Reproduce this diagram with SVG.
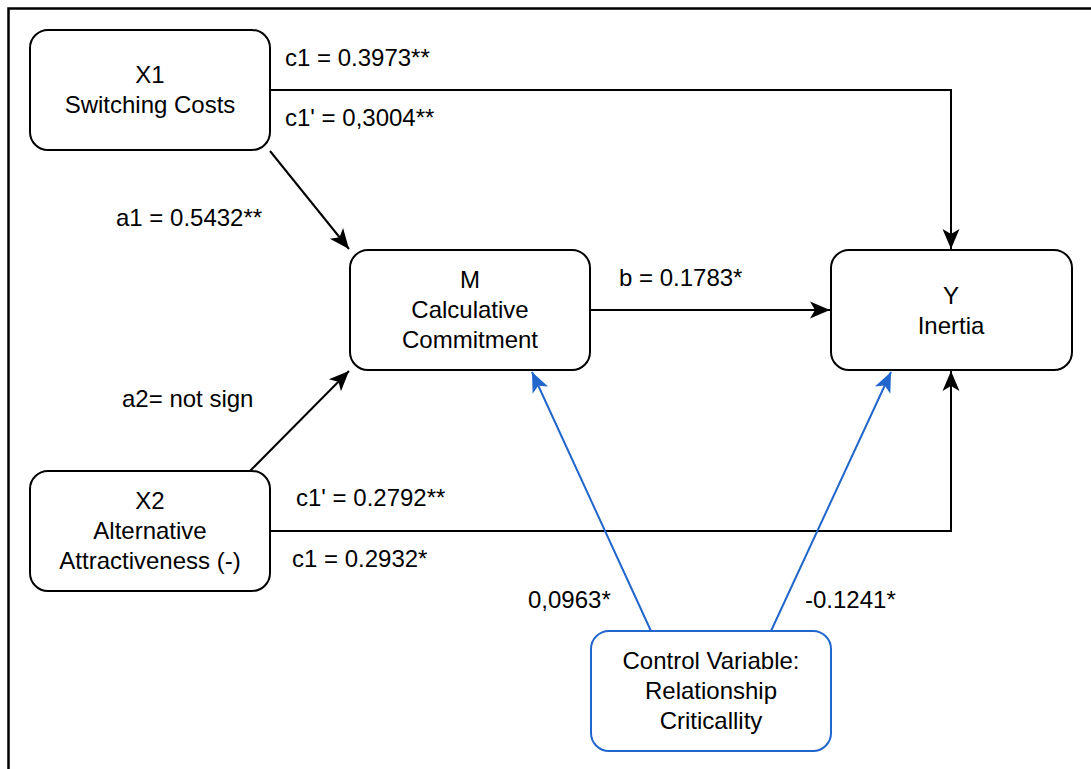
<svg xmlns="http://www.w3.org/2000/svg" width="1091" height="769" viewBox="0 0 1091 769">
  <style>
    .bg { fill: #ffffff; }
    .frame { fill: none; stroke: #000000; stroke-width: 2.5; }
    .node { fill: #ffffff; stroke: #000000; stroke-width: 2; }
    .ctrl { fill: #ffffff; stroke: #2166cc; stroke-width: 2; }
    .edge { fill: none; stroke: #000000; stroke-width: 2; }
    .edge-ctrl { fill: none; stroke: #2166cc; stroke-width: 2; }
    text { font-family: "Liberation Sans", Arial, sans-serif; font-size: 24px; fill: #000000; }
    .c { text-anchor: middle; }
  </style>
  <defs>
    <marker id="arrow" markerUnits="userSpaceOnUse" markerWidth="24" markerHeight="20" viewBox="-1 -10 24 20" refX="20" refY="0" orient="auto">
      <path d="M0,-8.5 L20,0 L0,8.5 L5,0 Z" fill="#000000"/>
    </marker>
    <marker id="arrow-blue" markerUnits="userSpaceOnUse" markerWidth="24" markerHeight="20" viewBox="-1 -10 24 20" refX="20" refY="0" orient="auto">
      <path d="M0,-8.5 L20,0 L0,8.5 L5,0 Z" fill="#2166cc"/>
    </marker>
  </defs>

  <rect class="bg" x="0" y="0" width="1091" height="769"/>
  <!-- outer frame (open to the right and bottom) -->
  <path class="frame" d="M8.5,769 V8.5 H1091"/>

  <g id="connectors">
    <path class="edge" d="M270,90 H951 V249" marker-end="url(#arrow)"/>
    <path class="edge" d="M270,151 L349,249" marker-end="url(#arrow)"/>
    <path class="edge" d="M590,310 H830" marker-end="url(#arrow)"/>
    <path class="edge" d="M250,471 L349,371" marker-end="url(#arrow)"/>
    <path class="edge" d="M270,531 H951 V371" marker-end="url(#arrow)"/>
    <path class="edge-ctrl" d="M651,631 L532,372" marker-end="url(#arrow-blue)"/>
    <path class="edge-ctrl" d="M771,631 L891,372" marker-end="url(#arrow-blue)"/>
  </g>

  <g id="labels">
    <text x="285" y="66">c1 = 0.3973**</text>
    <text x="285" y="126">c1' = 0,3004**</text>
    <text x="116" y="226">a1 = 0.5432**</text>
    <text x="619" y="286">b = 0.1783*</text>
    <text x="122" y="407">a2= not sign</text>
    <text x="296" y="506">c1' = 0.2792**</text>
    <text x="292" y="567">c1 = 0.2932*</text>
    <text x="528" y="608">0,0963*</text>
    <text x="805" y="608">-0.1241*</text>
  </g>

  <g id="node-x1">
    <rect class="node" x="30" y="30" width="240" height="120" rx="18" ry="18"/>
    <text class="c" x="150" y="83">X1</text>
    <text class="c" x="150" y="113">Switching Costs</text>
  </g>

  <g id="node-m">
    <rect class="node" x="350" y="250" width="240" height="120" rx="18" ry="18"/>
    <text class="c" x="470" y="288">M</text>
    <text class="c" x="470" y="318">Calculative</text>
    <text class="c" x="470" y="348">Commitment</text>
  </g>

  <g id="node-y">
    <rect class="node" x="831" y="250" width="241" height="120" rx="18" ry="18"/>
    <text class="c" x="951" y="304">Y</text>
    <text class="c" x="951" y="334">Inertia</text>
  </g>

  <g id="node-x2">
    <rect class="node" x="30" y="471" width="240" height="120" rx="18" ry="18"/>
    <text class="c" x="150" y="509">X2</text>
    <text class="c" x="150" y="539">Alternative</text>
    <text class="c" x="150" y="569">Attractiveness (-)</text>
  </g>

  <g id="node-control">
    <rect class="ctrl" x="591" y="631" width="240" height="120" rx="18" ry="18"/>
    <text class="c" x="711" y="669">Control Variable:</text>
    <text class="c" x="711" y="699">Relationship</text>
    <text class="c" x="711" y="729">Criticallity</text>
  </g>
</svg>
